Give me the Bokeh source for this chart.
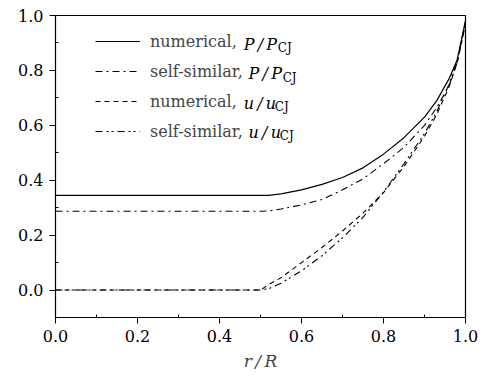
from bokeh.plotting import figure
from bokeh.models import Legend, LegendItem, Label, Range1d, FixedTicker, NumeralTickFormatter
from bokeh.embed import file_html
from bokeh.resources import INLINE

# r/R positions
r_P = [0.0, 0.1, 0.2, 0.3, 0.4, 0.5, 0.52, 0.55, 0.6, 0.65, 0.7, 0.75, 0.8, 0.85, 0.9, 0.93, 0.96, 0.98, 1.0]
# numerical P/P_CJ
P_num = [0.345, 0.345, 0.345, 0.345, 0.345, 0.345, 0.345, 0.35, 0.365, 0.385, 0.41, 0.445, 0.495, 0.555, 0.63, 0.69, 0.77, 0.84, 0.98]
# self-similar P/P_CJ
P_ss = [0.287, 0.287, 0.287, 0.287, 0.287, 0.287, 0.288, 0.295, 0.31, 0.33, 0.365, 0.405, 0.46, 0.52, 0.60, 0.665, 0.745, 0.83, 0.97]

r_u = [0.0, 0.1, 0.2, 0.3, 0.4, 0.5, 0.52, 0.55, 0.6, 0.65, 0.7, 0.75, 0.8, 0.85, 0.9, 0.93, 0.96, 0.98, 1.0]
# numerical u/u_CJ
u_num = [0.0, 0.0, 0.0, 0.0, 0.0, 0.0, 0.02, 0.045, 0.10, 0.155, 0.215, 0.28, 0.355, 0.45, 0.56, 0.64, 0.74, 0.83, 0.97]
# self-similar u/u_CJ
u_ss = [0.0, 0.0, 0.0, 0.0, 0.0, 0.0, 0.005, 0.025, 0.07, 0.125, 0.19, 0.265, 0.357, 0.46, 0.57, 0.65, 0.75, 0.84, 0.98]

x_ticks = [0.0, 0.2, 0.4, 0.6, 0.8, 1.0]
y_ticks = [0.0, 0.2, 0.4, 0.6, 0.8, 1.0]

FONT = "DejaVu Serif"

p = figure(width=478, height=373, output_backend="svg", toolbar_location=None,
           x_range=Range1d(0.0, 1.0), y_range=Range1d(-0.1, 1.0),
           min_border_left=55, min_border_right=13, min_border_top=15, min_border_bottom=53)
p.grid.visible = False
p.outline_line_color = "black"
p.outline_line_width = 1.2
p.background_fill_color = "white"
p.border_fill_color = "white"

l1 = p.line(r_P, P_num, line_color="black", line_width=1.2)
l2 = p.line(r_P, P_ss, line_color="black", line_width=1.1, line_dash="7 4 2 4")
l3 = p.line(r_u, u_num, line_color="black", line_width=1.1, line_dash="5 4")
l4 = p.line(r_u, u_ss, line_color="black", line_width=1.1, line_dash="7 4 2 3 2 4")

for ax in (p.xaxis[0], p.yaxis[0]):
    ax.axis_line_color = "black"
    ax.major_tick_line_color = "black"
    ax.minor_tick_line_color = "black"
    ax.major_tick_out = 6
    ax.major_tick_in = 0
    ax.minor_tick_out = 0
    ax.minor_tick_in = 3
    ax.major_label_text_color = "black"
    ax.major_label_text_font = FONT
    ax.major_label_text_font_size = "16px"
    ax.formatter = NumeralTickFormatter(format="0.0")

p.xaxis[0].ticker = FixedTicker(ticks=x_ticks, minor_ticks=[0.1, 0.3, 0.5, 0.7, 0.9])
p.yaxis[0].ticker = FixedTicker(ticks=y_ticks, minor_ticks=[-0.1, 0.1, 0.3, 0.5, 0.7, 0.9])
p.xaxis[0].major_label_standoff = 6
p.yaxis[0].major_label_standoff = 6

p.xaxis[0].axis_label = "r\u2009/\u2009R"
p.xaxis[0].axis_label_text_font = FONT
p.xaxis[0].axis_label_text_font_style = "italic"
p.xaxis[0].axis_label_text_font_size = "17px"
p.xaxis[0].axis_label_standoff = 6

legend = Legend(items=[
    LegendItem(label="numerical,", renderers=[l1]),
    LegendItem(label="self-similar,", renderers=[l2]),
    LegendItem(label="numerical,", renderers=[l3]),
    LegendItem(label="self-similar,", renderers=[l4]),
], location=(40, 176), margin=0, padding=0, spacing=10,
   glyph_width=45, glyph_height=20, label_height=20, label_standoff=10,
   label_text_font=FONT, label_text_font_size="16px",
   border_line_color=None, background_fill_alpha=0.0)
p.add_layout(legend)

# math parts of the legend labels
rows_y = [0.895, 0.787, 0.679, 0.574]
math_x = [0.459, 0.471, 0.459, 0.471]
main_txt = ["P\u2009/\u2009P", "P\u2009/\u2009P", "u\u2009/\u2009u", "u\u2009/\u2009u"]
sub_x = [0.542, 0.554, 0.535, 0.547]
for yy, mx, t, sx in zip(rows_y, math_x, main_txt, sub_x):
    p.add_layout(Label(x=mx, y=yy, text=t, text_font=FONT, text_font_style="italic",
                       text_font_size="16px", text_baseline="middle", text_color="black"))
    p.add_layout(Label(x=sx, y=yy - 0.014, text="CJ", text_font=FONT,
                       text_font_size="12px", text_baseline="middle", text_color="black"))

open("out.html", "w").write(file_html(p, INLINE))
